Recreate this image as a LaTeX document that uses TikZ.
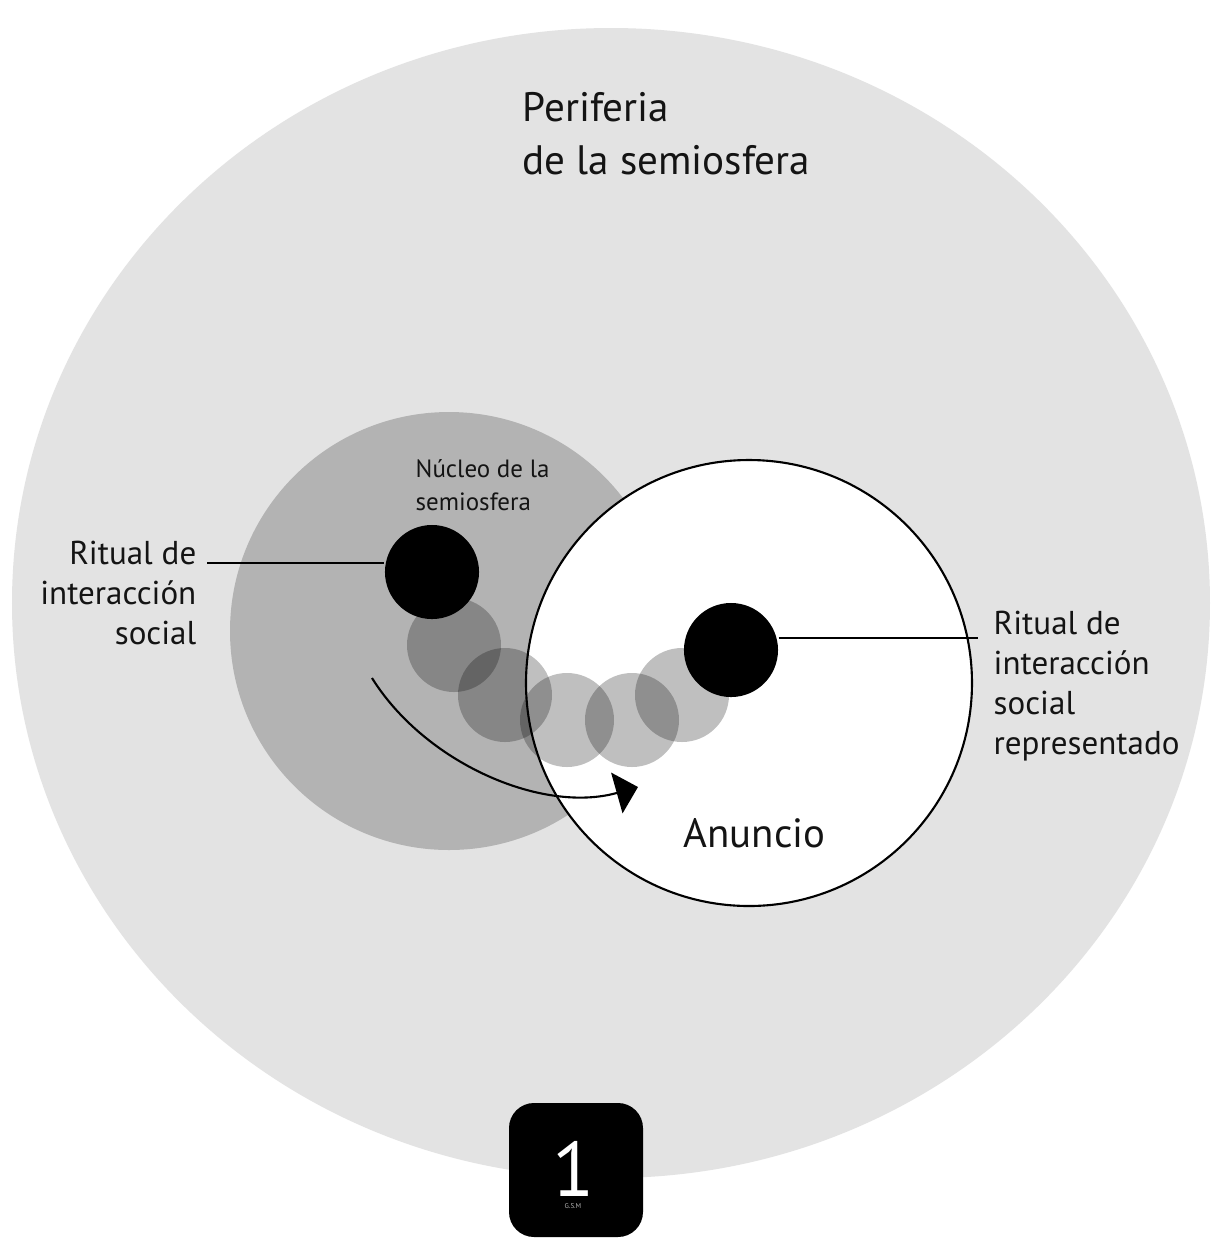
\documentclass[tikz,border=0pt]{standalone}
\usepackage{fontspec}
\setmainfont{PT Sans}
\usetikzlibrary{calc,positioning}
\usetikzlibrary{arrows.meta}
\definecolor{cPeriferia}{HTML}{E3E3E3}
\definecolor{cNucleo}{HTML}{B3B3B3}
\tikzset{
  rotulo/.style={inner sep=0pt, text=black!92},
  paso/.style={fill=black, fill opacity=0.25},
  punto/.style={circle, fill=black, inner sep=0pt, minimum size=0.94cm},
}

\begin{document}
\begin{tikzpicture}[x=0.01cm,y=-0.01cm]
\useasboundingbox (0,0) rectangle (1222,1238);
\fill[white] (0,0) rectangle (1222,1238);
%periferia, nucleo y anuncio
\fill[cPeriferia] (611,603) ellipse (599 and 575);
\fill[cNucleo] (449,631) circle (219);
\draw[semithick,fill=white] (749,683) circle (223);

%recorrido del ritual
\foreach \x/\y in {454/645, 505/695, 567/720, 632/720, 682/695}
{
    \fill[paso] (\x,\y) circle (47);
};
\node[punto] (ritual) at (432,572) {};
\node[punto] (ritualRep) at (731,650) {};

%textos
\node[rotulo, anchor=north west, align=left, font=\fontsize{11.7}{15.1}\selectfont] (periferia) at (522,92) {Periferia\\de la semiosfera};
\node[rotulo, anchor=north west, align=left, font=\fontsize{7.1}{9.4}\selectfont] (nucleo) at (415,459) {Núcleo de la\\semiosfera};
\node[rotulo, anchor=north east, align=right, font=\fontsize{9.4}{11.4}\selectfont] (ritualTxt) at (197,540) {Ritual de\\interacción\\social};
\node[rotulo, anchor=north west, align=left, font=\fontsize{9.4}{11.4}\selectfont] (ritualRepTxt) at (993,610) {Ritual de\\interacción\\social\\representado};
\node[rotulo, anchor=base west, font=\fontsize{11.6}{13}\selectfont] (anuncio) at (683,847) {Anuncio};

%lineas
\coordinate (cIzq) at (207,563);
\coordinate (cDer) at (978,638);
\draw[semithick] (cIzq) -- (cIzq -| ritual.west);
\draw[semithick] (ritualRep.east |- cDer) -- (cDer);

%flecha
\coordinate (cArcoIni) at (372,678);
\coordinate (cArcoFin) at (638,787);
\draw[semithick,-{Triangle[length=0.22cm,width=0.42cm]}] (cArcoIni) .. controls (425,763) and (542,814) .. (cArcoFin);

%numero
\fill[black, rounded corners=0.25cm] (509,1103) rectangle (643,1237);
\node[rotulo, text=white, anchor=base, font=\fontsize{22}{22}\selectfont] (numero) at (574,1196) {1};
\node[rotulo, text=gray!60, anchor=north, font=\fontsize{2}{2}\selectfont] (firma) at (573,1203) {G.S.M};
\end{tikzpicture}
\end{document}
